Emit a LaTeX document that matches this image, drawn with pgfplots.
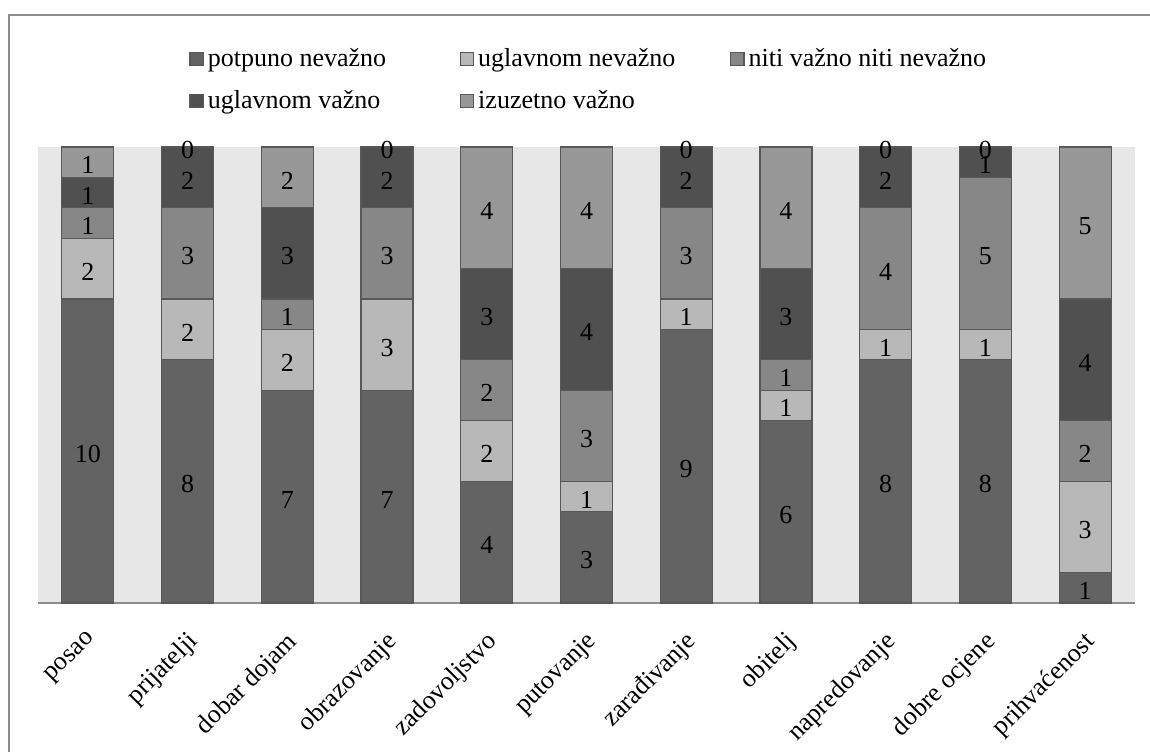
\documentclass[border=0pt]{standalone}
\usepackage{fontspec}
\setmainfont{Liberation Serif}
\usepackage{pgfplots}
\pgfplotsset{compat=1.18}

\definecolor{cA}{HTML}{636363}
\definecolor{cB}{HTML}{B8B8B8}
\definecolor{cC}{HTML}{878787}
\definecolor{cD}{HTML}{505050}
\definecolor{cE}{HTML}{989898}
\definecolor{bgc}{HTML}{E7E7E7}
\definecolor{edge}{HTML}{585858}
\definecolor{frame}{HTML}{8C8C8C}

\newcommand{\chartfont}{\fontsize{13}{15}\selectfont}

\begin{document}
\begin{tikzpicture}
\path[use as bounding box] (0,0) rectangle (575pt,375.5pt);
\draw[frame, line width=0.75pt] (4.5pt,368pt) rectangle (600pt,-30pt);

\begin{axis}[
  at={(19pt,74pt)}, anchor=south west,
  scale only axis, width=548.5pt, height=228pt,
  xmin=-0.5, xmax=10.5, ymin=0, ymax=15,
  ybar stacked, bar width=26pt,
  stacked ignores zero=false,
  clip=false,
  axis background/.style={fill=bgc},
  axis x line*=bottom, axis y line=none,
  x axis line style={draw=frame, line width=0.75pt},
  xtick={0,...,10}, ytick=\empty,
  xtick style={draw=none},
  xticklabels={posao, prijatelji, dobar dojam, obrazovanje, zadovoljstvo,
    putovanje, zarađivanje, obitelj, napredovanje, dobre ocjene, prihvaćenost},
  x tick label style={xshift=-1pt, yshift=-8.5pt, rotate=45, anchor=north east,
    font=\chartfont},
  every axis plot/.append style={draw=edge, line width=0.6pt},
  nodes near coords={\pgfmathprintnumber[assume math mode=true]{\pgfplotspointmeta}},
  every node near coord/.style={anchor=center, yshift=-1.5pt,
    font=\chartfont, text=black},
  legend columns=3,
  legend cell align=left,
  legend image code/.code={\draw[#1, line width=0.6pt] (0pt,-3.3pt) rectangle (6.6pt,3.3pt);},
  legend style={at={(0.1322,1.235)}, anchor=north west, draw=none, fill=none,
    font=\chartfont, row sep=6.5pt,
    /tikz/every even column/.style={column sep=0pt}},
]
\addplot[fill=cA] coordinates {(0,10) (1,8) (2,7) (3,7) (4,4) (5,3) (6,9) (7,6) (8,8) (9,8) (10,1)};
\addlegendentry{\makebox[124pt][l]{potpuno nevažno}}
\addplot[fill=cB] coordinates {(0,2) (1,2) (2,2) (3,3) (4,2) (5,1) (6,1) (7,1) (8,1) (9,1) (10,3)};
\addlegendentry{\makebox[124pt][l]{uglavnom nevažno}}
\addplot[fill=cC] coordinates {(0,1) (1,3) (2,1) (3,3) (4,2) (5,3) (6,3) (7,1) (8,4) (9,5) (10,2)};
\addlegendentry{niti važno niti nevažno}
\addplot[fill=cD] coordinates {(0,1) (1,2) (2,3) (3,2) (4,3) (5,4) (6,2) (7,3) (8,2) (9,1) (10,4)};
\addlegendentry{\makebox[124pt][l]{uglavnom važno}}
\addplot[fill=cE] coordinates {(0,1) (1,0) (2,2) (3,0) (4,4) (5,4) (6,0) (7,4) (8,0) (9,0) (10,5)};
\addlegendentry{\makebox[124pt][l]{izuzetno važno}}
\end{axis}
\end{tikzpicture}
\end{document}
